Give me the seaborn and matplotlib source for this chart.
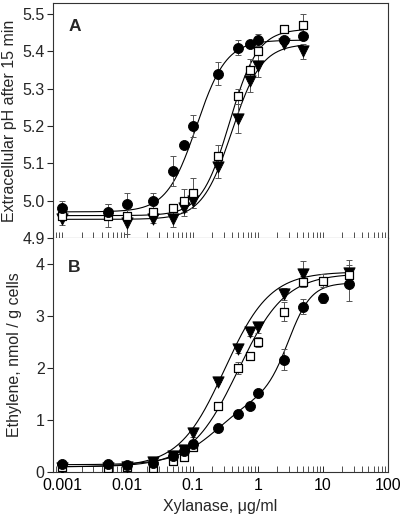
import numpy as np
import pandas as pd
import matplotlib
matplotlib.use("Agg")
import matplotlib.pyplot as plt
import seaborn as sns

# ---------------- data ----------------
dose = [0.001, 0.005, 0.01, 0.025, 0.05, 0.075, 0.1, 0.25, 0.5, 0.75, 1, 2.5, 5, 10, 25]
dose_a = dose[:13]

# Panel A: extracellular pH
ph_circle = [4.98, 4.97, 4.99, 5.00, 5.08, 5.15, 5.20, 5.34, 5.41, 5.42, 5.43, 5.43, 5.44]
ph_circle_err = [0.02, 0.02, 0.03, 0.02, 0.04, 0.0, 0.03, 0.03, 0.02, 0.0, 0.015, 0.0, 0.01]
ph_square = [4.96, 4.96, 4.96, 4.97, 4.98, 5.00, 5.02, 5.12, 5.28, 5.35, 5.40, 5.46, 5.47]
ph_square_err = [0.01, 0.03, 0.0, 0.0, 0.0, 0.03, 0.04, 0.03, 0.02, 0.03, 0.0, 0.0, 0.03]
ph_tri = [4.95, np.nan, 4.94, 4.95, 4.95, 4.98, 5.00, 5.09, 5.22, 5.32, 5.36, 5.42, 5.40]
ph_tri_err = [0.015, 0.0, 0.03, 0.01, 0.02, 0.02, 0.02, 0.03, 0.04, 0.03, 0.03, 0.0, 0.02]

# Panel B: ethylene
eth_circle = [0.15, 0.15, 0.14, 0.17, 0.31, 0.40, 0.54, 0.84, 1.12, 1.27, 1.52, 2.16, 3.18, 3.35, 3.61]
eth_circle_err = [0.0, 0.0, 0.0, 0.0, 0.0, 0.0, 0.0, 0.0, 0.08, 0.0, 0.0, 0.2, 0.15, 0.1, 0.32]
eth_square = [0.10, 0.08, 0.09, 0.08, 0.22, 0.29, 0.49, 1.26, 2.00, 2.24, 2.50, 3.08, 3.66, 3.68, 3.79]
eth_square_err = [0.0, 0.0, 0.0, 0.0, 0.0, 0.0, 0.0, 0.0, 0.12, 0.0, 0.1, 0.18, 0.1, 0.12, 0.2]
eth_tri = [0.08, 0.08, 0.09, 0.2, 0.3, 0.42, 0.75, 1.73, 2.36, 2.69, 2.78, 3.42, 3.80, np.nan, 3.83]
eth_tri_err = [0.0, 0.0, 0.0, 0.0, 0.0, 0.0, 0.07, 0.0, 0.07, 0.07, 0.1, 0.12, 0.25, 0.0, 0.25]

# fitted dose-response parameters: bottom, [(amplitude, EC50, hill), ...]
fit_a = {
    "circle": (4.97, [(0.46, 0.115, 1.9)]),
    "square": (4.96, [(0.50, 0.37, 2.0)]),
    "tri": (4.95, [(0.47, 0.40, 1.9)]),
}
fit_b = {
    "circle": (0.14, [(1.40, 0.25, 1.3), (2.10, 3.0, 2.5)]),
    "square": (0.10, [(3.72, 0.50, 1.2)]),
    "tri": (0.10, [(3.75, 0.31, 1.25)]),
}

ticks_x = [0.001, 0.01, 0.1, 1, 10, 100]
ticklabels_x = ["0.001", "0.01", "0.1", "1", "10", "100"]

# ---------------- style ----------------
sns.set_style("ticks")
plt.rcParams["font.family"] = ["Liberation Sans", "DejaVu Sans"]
FS = 11.5

fig = plt.figure(figsize=(4.0, 5.19), dpi=100)
axA = fig.add_axes([0.1325, 0.5414, 0.8375, 0.4526])
axB = fig.add_axes([0.1325, 0.0906, 0.8375, 0.4508])

styles = {
    "circle": dict(marker="o", s=52, color="black", edgecolor="black", linewidth=0.6),
    "square": dict(marker="s", s=40, color="white", edgecolor="black", linewidth=0.9),
    "tri": dict(marker="v", s=66, color="black", edgecolor="black", linewidth=0.6),
}


def curve(x, bottom, comps):
    y = np.full_like(x, bottom, dtype=float)
    for amp, ec, n in comps:
        y = y + amp / (1.0 + (ec / x) ** n)
    return y


def draw(ax, xs, series, fits, xmax):
    xx = np.logspace(-3, np.log10(xmax), 300)
    for key in ["circle", "square", "tri"]:
        b, comps = fits[key]
        df = pd.DataFrame({"x": xx, "y": curve(xx, b, comps)})
        sns.lineplot(data=df, x="x", y="y", ax=ax, color="black", linewidth=0.8,
                     zorder=2, legend=False)
    order = ["tri", "square", "circle"]
    for key in order:
        vals, errs = series[key]
        ax.errorbar(xs, vals, yerr=errs, fmt="none", ecolor="#555555",
                    elinewidth=0.7, capsize=2, capthick=0.7, zorder=3)
    for key in order:
        vals, errs = series[key]
        df = pd.DataFrame({"x": xs, "y": vals}).dropna()
        sns.scatterplot(data=df, x="x", y="y", ax=ax, zorder=4, legend=False,
                        **styles[key])


draw(axA, dose_a,
     {"circle": (ph_circle, ph_circle_err), "square": (ph_square, ph_square_err),
      "tri": (ph_tri, ph_tri_err)}, fit_a, 5)
draw(axB, dose,
     {"circle": (eth_circle, eth_circle_err), "square": (eth_square, eth_square_err),
      "tri": (eth_tri, eth_tri_err)}, fit_b, 25)

for ax in (axA, axB):
    ax.set_xscale("log")
    ax.set_xlim(0.00072, 100)
    for s in ax.spines.values():
        s.set_linewidth(0.8)
        s.set_color("#333333")
    ax.tick_params(axis="x", which="both", direction="in", length=4, width=0.6,
                   top=False, colors="#333333")
    ax.tick_params(axis="y", which="major", direction="out", length=4, width=0.8,
                   labelsize=FS, pad=2)
    ax.set_xticks(ticks_x)
    ax.xaxis.set_minor_locator(matplotlib.ticker.LogLocator(base=10, subs=np.arange(2, 10)))

axA.set_ylim(4.9, 5.529)
axA.set_yticks([4.9, 5.0, 5.1, 5.2, 5.3, 5.4, 5.5])
axA.set_yticklabels(["4.9", "5.0", "5.1", "5.2", "5.3", "5.4", "5.5"])
axA.set_xticklabels([])
axA.set_xlabel("")
axA.set_ylabel("Extracellular pH after 15 min", fontsize=FS, labelpad=4)
axA.text(0.045, 0.9, "A", transform=axA.transAxes, fontsize=12.5, fontweight="bold",
         va="center", ha="left")

axB.set_ylim(0, 4.5)
axB.set_yticks([0, 1, 2, 3, 4])
axB.set_yticklabels(["0", "1", "2", "3", "4"])
axB.set_xticklabels(ticklabels_x, fontsize=FS)
axB.tick_params(axis="x", which="major", pad=4, colors="black")
axB.set_xlabel("Xylanase, \u03bcg/ml", fontsize=FS, labelpad=5)
axB.set_ylabel("Ethylene, nmol / g cells", fontsize=FS, labelpad=10)
axB.text(0.045, 0.875, "B", transform=axB.transAxes, fontsize=12.5, fontweight="bold",
         va="center", ha="left")
axB.spines["top"].set_visible(False)

fig.savefig("out.png", dpi=100)
